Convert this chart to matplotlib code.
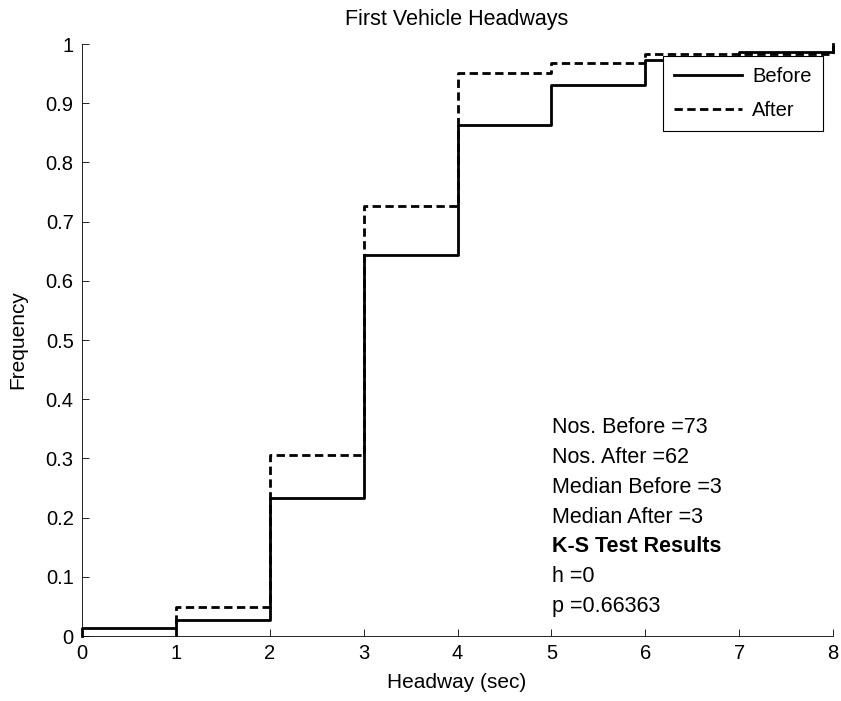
import matplotlib.pyplot as plt
import numpy as np

# empirical CDF of headways, sample counts at each step
headway_before = [0, 1, 2, 3, 4, 5, 6, 7, 8]
cum_before = [1, 2, 17, 47, 63, 68, 71, 72, 73]
headway_after = [1, 2, 3, 4, 5, 6, 8]
cum_after = [3, 19, 45, 59, 60, 61, 62]

n_before = 73
n_after = 62
stats_lines = ["Nos. Before =73", "Nos. After =62", "Median Before =3",
               "Median After =3", "K-S Test Results", "h =0", "p =0.66363"]

plt.rcParams['font.family'] = ['Liberation Sans', 'DejaVu Sans']

W, H = 841, 701
fig = plt.figure(figsize=(W / 100, H / 100), dpi=100)
ax = fig.add_axes([82 / W, 1 - 636 / H, (833 - 82) / W, (636 - 44) / H])


def stairs(x, counts, n):
    xs = [x[0]] + list(x)
    ys = [0] + [c / n for c in counts]
    return xs, ys


xb, yb = stairs(headway_before, cum_before, n_before)
xa, ya = stairs(headway_after, cum_after, n_after)
ax.step(xb, yb, where='post', color='black', lw=2, label='Before', clip_on=False)
ax.step(xa, ya, where='post', color='black', lw=2, linestyle=(0, (3.0, 1.6)),
        label='After', clip_on=False)

ax.set_xlim(0, 8)
ax.set_ylim(0, 1)
ax.set_xticks(np.arange(0, 9, 1))
ax.set_yticks(np.arange(0, 1.01, 0.1))
ax.set_yticklabels(['0', '0.1', '0.2', '0.3', '0.4', '0.5', '0.6', '0.7', '0.8', '0.9', '1'])
ax.tick_params(direction='in', length=5, width=0.6, labelsize=14.5)
ax.tick_params(axis='x', pad=6)
ax.tick_params(axis='y', pad=6)
ax.spines['top'].set_visible(False)
ax.spines['right'].set_visible(False)
for s in ['left', 'bottom']:
    ax.spines[s].set_linewidth(0.6)

fig.text(457 / W, 1 - 20 / H, 'First Vehicle Headways', fontsize=15.5, ha='center', va='center')
fig.text(457 / W, 1 - 683 / H, 'Headway (sec)', fontsize=15, ha='center', va='center')
fig.text(18 / W, 1 - 340 / H, 'Frequency', fontsize=15, ha='center', va='center', rotation=90)

leg = ax.legend(loc='upper right', bbox_to_anchor=((823 - 82) / 751, (636 - 56) / 592),
                borderaxespad=0, fontsize=14.5, frameon=True, fancybox=False,
                edgecolor='black', framealpha=1, handlelength=3.4, borderpad=0.55,
                labelspacing=0.75, handletextpad=0.5)
leg.get_frame().set_linewidth(0.8)

# K-S summary block
for i, line in enumerate(stats_lines):
    fig.text(552 / W, 1 - (428 + 29.7 * i) / H, line, fontsize=15.5,
             fontweight='bold' if line.startswith('K-S') else 'normal',
             va='center', ha='left')

fig.savefig('out.png', dpi=100)
